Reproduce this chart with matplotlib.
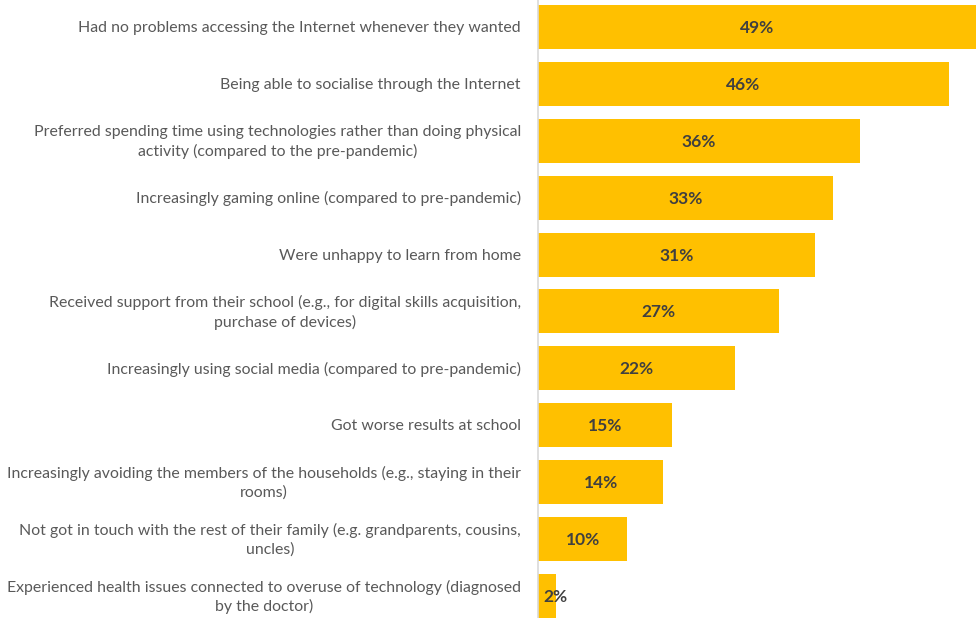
import matplotlib.pyplot as plt
from matplotlib.transforms import offset_copy

labels = [
    "Had no problems accessing the Internet whenever they wanted",
    "Being able to socialise through the Internet",
    "Preferred spending time using technologies rather than doing physical\nactivity (compared to the pre-pandemic)",
    "Increasingly gaming online (compared to pre-pandemic)",
    "Were unhappy to learn from home",
    "Received support from their school (e.g., for digital skills acquisition,\npurchase of devices)",
    "Increasingly using social media (compared to pre-pandemic)",
    "Got worse results at school",
    "Increasingly avoiding the members of the households (e.g., staying in their\nrooms)",
    "Not got in touch with the rest of their family (e.g. grandparents, cousins,\nuncles)",
    "Experienced health issues connected to overuse of technology (diagnosed\nby the doctor)",
]
values = [49, 46, 36, 33, 31, 27, 22, 15, 14, 10, 2]

fig = plt.figure(figsize=(9.76, 6.18), dpi=100)
ax = fig.add_axes([538 / 976, 0, 1 - 538 / 976, 1])

ys = list(range(len(values)))
ax.barh(ys, values, height=0.773, color="#FFC000", edgecolor="none")
ax.set_ylim(10.387, -0.474)
ax.set_xlim(0, 49)

for s in ["top", "right", "bottom"]:
    ax.spines[s].set_visible(False)
ax.spines["left"].set_color("#D9D9D9")
ax.spines["left"].set_linewidth(1.2)
ax.set_xticks([])
ax.set_yticks([])

lab_tr = offset_copy(ax.transData, fig=fig, x=-17, y=-1, units="dots")
for y, lab in zip(ys, labels):
    ax.text(0, y, lab, transform=lab_tr, ha="right", va="center",
            multialignment="center", fontsize=11.4, color="#595959",
            family="Lato", linespacing=1.4)

val_tr = offset_copy(ax.transData, fig=fig, x=0, y=-1, units="dots")
for y, v in zip(ys, values):
    ax.text(max(v / 2, 2.0), y, f"{v}%", transform=val_tr, ha="center",
            va="center", fontsize=12.5, fontweight="bold", color="#404040",
            family="Lato")

plt.savefig("out.png", dpi=100)
